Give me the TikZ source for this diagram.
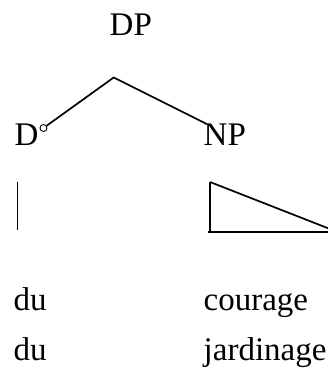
\documentclass[tikz,border=0pt]{standalone}
\usepackage{fontspec}
\setmainfont{Liberation Serif}
\begin{document}
\begin{tikzpicture}[x=1pt,y=-1pt,
  lbl/.style={anchor=base west,inner sep=0pt,font=\fontsize{33}{38}\selectfont},
  edge/.style={line width=1.7pt},
  dot/.style={circle,draw,line width=0.9pt,minimum size=7pt,inner sep=0pt}]
\useasboundingbox (0,0) rectangle (327,374);
\node[lbl] (DP) at (109.5,36) {DP};
\node[lbl] (D) at (14.5,146) {D};
\node[lbl] (NP) at (203.5,146) {NP};
\node[dot] (circ) at (43.5,128) {};
\coordinate (apex) at (113.7,77.5);
\coordinate (npTop) at (206.7,124);
\draw[edge] (circ) -- (apex) -- (npTop);
\draw[edge] (17.5,182) -- (17.5,230);
\draw[edge] (210,182) -- (210,232) (208,232) -- (330,232) (210,182) -- (330,229);
\node[lbl] (du1) at (13.5,310) {du};
\node[lbl] (courage) at (203.5,310) {courage};
\node[lbl] (du2) at (13.5,360) {du};
\node[lbl] (jard) at (203.5,360) {jardinage};
\end{tikzpicture}
\end{document}
